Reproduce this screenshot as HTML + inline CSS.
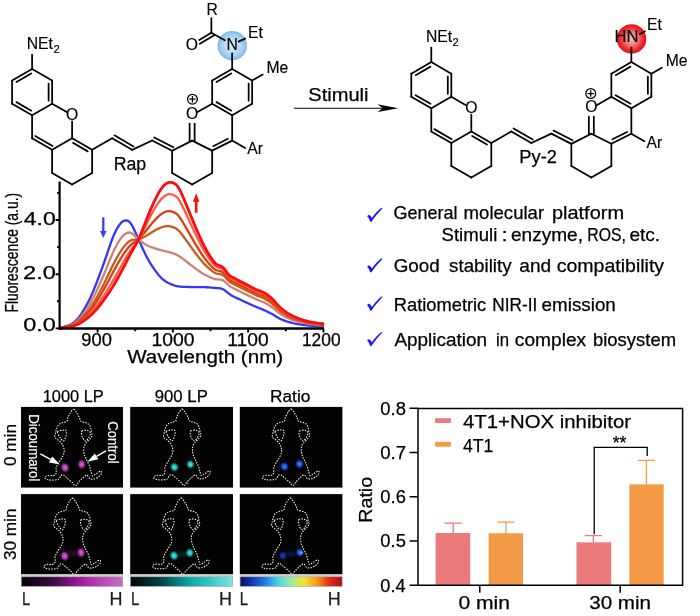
<!DOCTYPE html>
<html lang="en"><head><meta charset="utf-8"><title>Ratiometric NIR-II probe figure</title>
<style>html,body{margin:0;padding:0;background:#fff}body{width:700px;height:616px;overflow:hidden}svg{display:block}text{font-family:"Liberation Sans", sans-serif}</style></head><body>
<svg width="700" height="616" viewBox="0 0 700 616">
<rect width="700" height="616" fill="#fff"/>
<!-- spectrum -->
<g fill="none" stroke-linejoin="round" stroke-linecap="round">
<path d="M60 328 61 327.65 62 327.34 63 327.04 64 326.75 65 326.46 66 326.16 67 325.84 68 325.5 69 325.12 70 324.69 71 324.2 72 323.65 73 323.02 74 322.31 75 321.5 76 320.59 77 319.57 78 318.43 79 317.16 80 315.79 81 314.32 82 312.77 83 311.16 84 309.5 85 307.8 86 306.06 87 304.25 88 302.39 89 300.44 90 298.41 91 296.28 92 294.04 93 291.71 94 289.28 95 286.78 96 284.22 97 281.62 98 279 99 276.36 100 273.7 101 271.02 102 268.31 103 265.55 104 262.75 105 259.89 106 256.97 107 254.02 108 251.06 109 248.12 110 245.24 111 242.43 112 239.74 113 237.18 114 234.79 115 232.57 116 230.54 117 228.68 118 227 119 225.5 120 224.17 121 223.01 122 222.04 123 221.29 124 220.77 125 220.49 126 220.4 127 220.49 128 220.84 129 221.52 130 222.55 131 223.89 132 225.5 133 227.32 134 229.31 135 231.42 136 233.59 137 235.81 138 238.05 139 240.3 140 242.56 141 244.8 142 247.02 143 249.2 144 251.34 145 253.43 146 255.46 147 257.41 148 259.29 149 261.08 150 262.78 151 264.38 152 265.91 153 267.38 154 268.81 155 270.2 156 271.57 157 272.91 158 274.2 159 275.42 160 276.57 161 277.63 162 278.6 163 279.47 164 280.27 165 281 166 281.66 167 282.26 168 282.8 169 283.3 170 283.76 171 284.18 172 284.57 173 284.94 174 285.28 175 285.59 176 285.86 177 286.1 178 286.3 179 286.46 180 286.59 181 286.68 182 286.75 183 286.8 184 286.84 185 286.87 186 286.9 187 286.93 188 286.96 189 286.99 190 287.02 191 287.05 192 287.08 193 287.11 194 287.13 195 287.15 196 287.17 197 287.19 198 287.2 199 287.2 200 287.2 201 287.19 202 287.19 203 287.19 204 287.19 205 287.2 206 287.23 207 287.27 208 287.33 209 287.4 210 287.49 211 287.59 212 287.69 213 287.78 214 287.87 215 287.94 216 288 217 288.04 218 288.08 219 288.15 220 288.27 221 288.48 222 288.8 223 289.25 224 289.84 225 290.54 226 291.3 227 292.09 228 292.89 229 293.66 230 294.38 231 295.04 232 295.64 233 296.2 234 296.72 235 297.21 236 297.68 237 298.14 238 298.6 239 299.06 240 299.53 241 300 242 300.47 243 300.94 244 301.42 245 301.89 246 302.36 247 302.83 248 303.29 249 303.75 250 304.2 251 304.64 252 305.08 253 305.51 254 305.94 255 306.36 256 306.78 257 307.19 258 307.6 259 308.01 260 308.41 261 308.82 262 309.23 263 309.64 264 310.07 265 310.5 266 310.95 267 311.42 268 311.9 269 312.41 270 312.93 271 313.47 272 314.03 273 314.61 274 315.2 275 315.8 276 316.41 277 317 278 317.58 279 318.14 280 318.66 281 319.15 282 319.6 283 320.02 284 320.42 285 320.8 286 321.16 287 321.5 288 321.82 289 322.13 290 322.42 291 322.69 292 322.94 293 323.19 294 323.41 295 323.62 296 323.82 297 324 298 324.17 299 324.33 300 324.48 301 324.61 302 324.74 303 324.87 304 324.99 305 325.1 306 325.22 307 325.32 308 325.43 309 325.53 310 325.63 311 325.72 312 325.81 313 325.9 314 325.98 315 326.06 316 326.14 317 326.21 318 326.28 319 326.35 320 326.41 321 326.47 322 326.53 323 326.58" stroke="#3636f6" stroke-width="2.3"/>
<path d="M60 328.06 61 327.77 62 327.49 63 327.24 64 327 65 326.76 66 326.51 67 326.25 68 325.96 69 325.65 70 325.3 71 324.91 72 324.46 73 323.95 74 323.37 75 322.72 76 321.98 77 321.15 78 320.22 79 319.19 80 318.07 81 316.87 82 315.61 83 314.3 84 312.94 85 311.55 86 310.12 87 308.64 88 307.11 89 305.52 90 303.85 91 302.11 92 300.27 93 298.35 94 296.36 95 294.31 96 292.2 97 290.05 98 287.87 99 285.66 100 283.44 101 281.18 102 278.89 103 276.57 104 274.21 105 271.81 106 269.36 107 266.88 108 264.39 109 261.91 110 259.46 111 257.05 112 254.7 113 252.43 114 250.27 115 248.22 116 246.28 117 244.45 118 242.73 119 241.13 120 239.64 121 238.26 122 237 123 235.89 124 234.94 125 234.14 126 233.48 127 232.94 128 232.58 129 232.45 130 232.57 131 232.93 132 233.48 133 234.19 134 235.04 135 235.97 136 236.93 137 237.88 138 238.8 139 239.68 140 240.51 141 241.3 142 242.05 143 242.77 144 243.46 145 244.12 146 244.73 147 245.3 148 245.82 149 246.3 150 246.72 151 247.1 152 247.45 153 247.78 154 248.09 155 248.4 156 248.72 157 249.04 158 249.35 159 249.66 160 249.94 161 250.2 162 250.43 163 250.65 164 250.87 165 251.08 166 251.3 167 251.52 168 251.76 169 252.02 170 252.3 171 252.61 172 252.95 173 253.3 174 253.67 175 254.05 176 254.48 177 254.95 178 255.49 179 256.09 180 256.74 181 257.43 182 258.16 183 258.91 184 259.67 185 260.44 186 261.2 187 261.97 188 262.74 189 263.52 190 264.31 191 265.09 192 265.87 193 266.64 194 267.4 195 268.15 196 268.89 197 269.61 198 270.33 199 271.03 200 271.71 201 272.38 202 273.04 203 273.67 204 274.27 205 274.83 206 275.35 207 275.84 208 276.32 209 276.78 210 277.22 211 277.65 212 278.06 213 278.44 214 278.78 215 279.06 216 279.25 217 279.37 218 279.43 219 279.47 220 279.54 221 279.68 222 279.94 223 280.39 224 281.03 225 281.84 226 282.77 227 283.77 228 284.73 229 285.59 230 286.31 231 286.93 232 287.49 233 288.01 234 288.51 235 289.01 236 289.5 237 289.99 238 290.47 239 290.96 240 291.45 241 291.95 242 292.44 243 292.93 244 293.42 245 293.91 246 294.4 247 294.89 248 295.38 249 295.86 250 296.35 251 296.83 252 297.31 253 297.79 254 298.25 255 298.7 256 299.14 257 299.57 258 299.98 259 300.37 260 300.76 261 301.14 262 301.54 263 301.95 264 302.4 265 302.88 266 303.41 267 303.97 268 304.57 269 305.18 270 305.82 271 306.5 272 307.24 273 308.02 274 308.85 275 309.71 276 310.56 277 311.39 278 312.18 279 312.93 280 313.63 281 314.3 282 314.93 283 315.52 284 316.09 285 316.62 286 317.14 287 317.63 288 318.09 289 318.53 290 318.94 291 319.34 292 319.7 293 320.05 294 320.38 295 320.69 296 320.99 297 321.27 298 321.54 299 321.8 300 322.04 301 322.28 302 322.5 303 322.72 304 322.92 305 323.12 306 323.3 307 323.48 308 323.64 309 323.8 310 323.95 311 324.1 312 324.23 313 324.36 314 324.48 315 324.59 316 324.7 317 324.81 318 324.91 319 325 320 325.09 321 325.18 322 325.26 323 325.34" stroke="#cc8274" stroke-width="2.3"/>
<path d="M60 328.11 61 327.86 62 327.63 63 327.41 64 327.2 65 327 66 326.8 67 326.58 68 326.35 69 326.09 70 325.81 71 325.49 72 325.13 73 324.72 74 324.25 75 323.72 76 323.13 77 322.46 78 321.7 79 320.87 80 319.96 81 318.99 82 317.96 83 316.89 84 315.78 85 314.65 86 313.48 87 312.27 88 311.02 89 309.71 90 308.35 91 306.92 92 305.41 93 303.84 94 302.21 95 300.52 96 298.78 97 297 98 295.19 99 293.34 100 291.47 101 289.57 102 287.64 103 285.68 104 283.68 105 281.65 106 279.59 107 277.51 108 275.4 109 273.3 110 271.2 111 269.11 112 267.05 113 265.03 114 263.05 115 261.13 116 259.27 117 257.47 118 255.72 119 254.03 120 252.41 121 250.85 122 249.36 123 247.95 124 246.64 125 245.42 126 244.28 127 243.22 128 242.27 129 241.48 130 240.85 131 240.39 132 240.06 133 239.87 134 239.77 135 239.72 136 239.68 137 239.59 138 239.42 139 239.16 140 238.81 141 238.41 142 237.95 143 237.47 144 236.96 145 236.43 146 235.88 147 235.3 148 234.7 149 234.09 150 233.46 151 232.83 152 232.2 153 231.58 154 230.98 155 230.4 156 229.85 157 229.33 158 228.84 159 228.38 160 227.94 161 227.54 162 227.17 163 226.85 164 226.58 165 226.37 166 226.23 167 226.14 168 226.13 169 226.19 170 226.33 171 226.55 172 226.83 173 227.18 174 227.56 175 228.01 176 228.56 177 229.23 178 230.05 179 231.01 180 232.09 181 233.28 182 234.55 183 235.88 184 237.24 185 238.6 186 239.98 187 241.36 188 242.75 189 244.14 190 245.55 191 246.95 192 248.35 193 249.73 194 251.1 195 252.46 196 253.79 197 255.1 198 256.39 199 257.67 200 258.92 201 260.15 202 261.35 203 262.52 204 263.63 205 264.68 206 265.68 207 266.64 208 267.57 209 268.46 210 269.32 211 270.15 212 270.93 213 271.67 214 272.33 215 272.89 216 273.32 217 273.61 218 273.81 219 273.97 220 274.12 221 274.33 222 274.67 223 275.21 224 275.98 225 276.94 226 278.05 227 279.21 228 280.32 229 281.27 230 282.03 231 282.67 232 283.21 233 283.71 234 284.21 235 284.71 236 285.21 237 285.71 238 286.21 239 286.72 240 287.22 241 287.73 242 288.23 243 288.73 244 289.23 245 289.73 246 290.23 247 290.73 248 291.23 249 291.73 250 292.24 251 292.74 252 293.24 253 293.74 254 294.22 255 294.69 256 295.14 257 295.57 258 295.99 259 296.37 260 296.75 261 297.12 262 297.51 263 297.93 264 298.38 265 298.89 266 299.45 267 300.07 268 300.72 269 301.4 270 302.1 271 302.85 272 303.67 273 304.57 274 305.53 275 306.51 276 307.49 277 308.44 278 309.34 279 310.19 280 311 281 311.76 282 312.48 283 313.16 284 313.81 285 314.43 286 315.03 287 315.6 288 316.13 289 316.64 290 317.12 291 317.58 292 318.01 293 318.41 294 318.79 295 319.16 296 319.5 297 319.84 298 320.16 299 320.47 300 320.77 301 321.06 302 321.33 303 321.59 304 321.84 305 322.08 306 322.3 307 322.51 308 322.71 309 322.9 310 323.07 311 323.24 312 323.4 313 323.55 314 323.69 315 323.83 316 323.95 317 324.07 318 324.19 319 324.29 320 324.4 321 324.5 322 324.59 323 324.68" stroke="#c85a1e" stroke-width="2.3"/>
<path d="M60 328.14 61 327.91 62 327.7 63 327.51 64 327.32 65 327.14 66 326.96 67 326.77 68 326.57 69 326.35 70 326.11 71 325.83 72 325.52 73 325.17 74 324.76 75 324.31 76 323.79 77 323.21 78 322.56 79 321.84 80 321.06 81 320.22 82 319.33 83 318.4 84 317.44 85 316.45 86 315.43 87 314.38 88 313.29 89 312.15 90 310.96 91 309.71 92 308.41 93 307.04 94 305.61 95 304.14 96 302.62 97 301.05 98 299.45 99 297.81 100 296.15 101 294.45 102 292.73 103 290.97 104 289.19 105 287.38 106 285.55 107 283.69 108 281.81 109 279.93 110 278.03 111 276.14 112 274.24 113 272.36 114 270.49 115 268.65 116 266.83 117 265.04 118 263.28 119 261.55 120 259.85 121 258.18 122 256.55 123 254.97 124 253.45 125 251.99 126 250.57 127 249.21 128 247.92 129 246.74 130 245.67 131 244.73 132 243.9 133 243.17 134 242.52 135 241.91 136 241.28 137 240.59 138 239.78 139 238.86 140 237.83 141 236.72 142 235.56 143 234.38 144 233.18 145 231.95 146 230.72 147 229.48 148 228.23 149 226.98 150 225.74 151 224.52 152 223.33 153 222.16 154 221.02 155 219.93 156 218.87 157 217.86 158 216.9 159 215.99 160 215.14 161 214.35 162 213.64 163 213 164 212.45 165 211.99 166 211.63 167 211.37 168 211.21 169 211.16 170 211.21 171 211.38 172 211.63 173 211.97 174 212.37 175 212.86 176 213.47 177 214.26 178 215.24 179 216.41 180 217.74 181 219.22 182 220.81 183 222.47 184 224.18 185 225.9 186 227.62 187 229.36 188 231.11 189 232.87 190 234.63 191 236.39 192 238.15 193 239.89 194 241.62 195 243.32 196 245 197 246.65 198 248.29 199 249.89 200 251.48 201 253.03 202 254.55 203 256.02 204 257.43 205 258.78 206 260.07 207 261.31 208 262.51 209 263.67 210 264.79 211 265.86 212 266.88 213 267.83 214 268.69 215 269.43 216 270.01 217 270.42 218 270.72 219 270.95 220 271.17 221 271.44 222 271.84 223 272.44 224 273.29 225 274.35 226 275.56 227 276.83 228 278.02 229 279.02 230 279.82 231 280.45 232 281 233 281.49 234 281.99 235 282.49 236 283 237 283.5 238 284.01 239 284.52 240 285.04 241 285.54 242 286.05 243 286.56 244 287.06 245 287.56 246 288.07 247 288.58 248 289.09 249 289.6 250 290.11 251 290.63 252 291.14 253 291.64 254 292.14 255 292.61 256 293.07 257 293.51 258 293.92 259 294.3 260 294.67 261 295.04 262 295.43 263 295.84 264 296.3 265 296.82 266 297.41 267 298.05 268 298.74 269 299.44 270 300.17 271 300.96 272 301.83 273 302.79 274 303.81 275 304.86 276 305.91 277 306.92 278 307.88 279 308.78 280 309.64 281 310.44 282 311.21 283 311.94 284 312.64 285 313.3 286 313.94 287 314.55 288 315.12 289 315.67 290 316.18 291 316.67 292 317.13 293 317.56 294 317.97 295 318.36 296 318.74 297 319.1 298 319.45 299 319.78 300 320.11 301 320.42 302 320.72 303 321.01 304 321.28 305 321.54 306 321.78 307 322.01 308 322.23 309 322.43 310 322.62 311 322.8 312 322.97 313 323.13 314 323.28 315 323.43 316 323.56 317 323.69 318 323.81 319 323.93 320 324.04 321 324.15 322 324.25 323 324.35" stroke="#d8420f" stroke-width="2.3"/>
<path d="M60 328.18 61 327.97 62 327.79 63 327.62 64 327.46 65 327.3 66 327.15 67 326.99 68 326.82 69 326.64 70 326.44 71 326.21 72 325.96 73 325.67 74 325.34 75 324.97 76 324.55 77 324.07 78 323.54 79 322.94 80 322.29 81 321.6 82 320.87 83 320.1 84 319.3 85 318.48 86 317.64 87 316.76 88 315.85 89 314.9 90 313.91 91 312.87 92 311.78 93 310.64 94 309.45 95 308.22 96 306.94 97 305.61 98 304.25 99 302.86 100 301.42 101 299.96 102 298.47 103 296.95 104 295.4 105 293.84 106 292.26 107 290.66 108 289.04 109 287.4 110 285.74 111 284.06 112 282.35 113 280.63 114 278.88 115 277.13 116 275.36 117 273.59 118 271.8 119 270.02 120 268.23 121 266.44 122 264.66 123 262.89 124 261.13 125 259.39 126 257.66 127 255.95 128 254.28 129 252.66 130 251.11 131 249.63 132 248.22 133 246.89 134 245.63 135 244.38 136 243.09 137 241.71 138 240.19 139 238.52 140 236.72 141 234.82 142 232.87 143 230.9 144 228.91 145 226.91 146 224.91 147 222.91 148 220.93 149 218.97 150 217.04 151 215.16 152 213.32 153 211.53 154 209.8 155 208.11 156 206.49 157 204.92 158 203.43 159 202.03 160 200.71 161 199.48 162 198.37 163 197.38 164 196.51 165 195.78 166 195.18 167 194.72 168 194.39 169 194.21 170 194.17 171 194.27 172 194.49 173 194.82 174 195.24 175 195.77 176 196.46 177 197.38 178 198.55 179 199.95 180 201.57 181 203.37 182 205.31 183 207.36 184 209.45 185 211.57 186 213.69 187 215.83 188 217.98 189 220.15 190 222.32 191 224.49 192 226.65 193 228.8 194 230.93 195 233.02 196 235.09 197 237.13 198 239.14 199 241.13 200 243.09 201 245.01 202 246.88 203 248.7 204 250.45 205 252.13 206 253.75 207 255.32 208 256.83 209 258.3 210 259.71 211 261.06 212 262.36 213 263.57 214 264.66 215 265.6 216 266.36 217 266.92 218 267.33 219 267.66 220 267.96 221 268.3 222 268.77 223 269.46 224 270.41 225 271.57 226 272.9 227 274.29 228 275.58 229 276.64 230 277.47 231 278.12 232 278.66 233 279.15 234 279.65 235 280.15 236 280.66 237 281.17 238 281.69 239 282.21 240 282.73 241 283.24 242 283.76 243 284.27 244 284.77 245 285.28 246 285.79 247 286.31 248 286.82 249 287.35 250 287.87 251 288.4 252 288.92 253 289.44 254 289.94 255 290.43 256 290.89 257 291.33 258 291.74 259 292.12 260 292.49 261 292.85 262 293.23 263 293.65 264 294.11 265 294.64 266 295.25 267 295.93 268 296.64 269 297.37 270 298.14 271 298.97 272 299.89 273 300.9 274 301.99 275 303.12 276 304.24 277 305.32 278 306.33 279 307.29 280 308.2 281 309.06 282 309.87 283 310.65 284 311.4 285 312.11 286 312.79 287 313.44 288 314.06 289 314.64 290 315.19 291 315.71 292 316.2 293 316.67 294 317.11 295 317.53 296 317.93 297 318.32 298 318.7 299 319.06 300 319.42 301 319.76 302 320.08 303 320.4 304 320.69 305 320.97 306 321.23 307 321.48 308 321.72 309 321.94 310 322.14 311 322.34 312 322.52 313 322.69 314 322.85 315 323.01 316 323.15 317 323.29 318 323.42 319 323.54 320 323.66 321 323.78 322 323.88 323 323.99" stroke="#ff5a48" stroke-width="2.3"/>
<path d="M60 328.2 61 328.01 62 327.85 63 327.69 64 327.55 65 327.42 66 327.28 67 327.14 68 327 69 326.84 70 326.67 71 326.48 72 326.27 73 326.02 74 325.74 75 325.43 76 325.07 77 324.67 78 324.21 79 323.71 80 323.16 81 322.57 82 321.94 83 321.28 84 320.6 85 319.9 86 319.17 87 318.42 88 317.63 89 316.82 90 315.96 91 315.07 92 314.13 93 313.15 94 312.13 95 311.06 96 309.95 97 308.79 98 307.6 99 306.37 100 305.1 101 303.79 102 302.46 103 301.11 104 299.73 105 298.34 106 296.93 107 295.51 108 294.07 109 292.6 110 291.11 111 289.57 112 288 113 286.38 114 284.73 115 283.03 116 281.3 117 279.54 118 277.74 119 275.92 120 274.07 121 272.2 122 270.31 123 268.4 124 266.48 125 264.54 126 262.6 127 260.65 128 258.71 129 256.79 130 254.89 131 253.03 132 251.23 133 249.48 134 247.79 135 246.09 136 244.35 137 242.49 138 240.48 139 238.28 140 235.94 141 233.5 142 231 143 228.47 144 225.94 145 223.4 146 220.86 147 218.34 148 215.85 149 213.39 150 210.98 151 208.63 152 206.35 153 204.13 154 201.98 155 199.89 156 197.86 157 195.92 158 194.06 159 192.3 160 190.65 161 189.13 162 187.74 163 186.5 164 185.41 165 184.49 166 183.72 167 183.12 168 182.68 169 182.4 170 182.3 171 182.36 172 182.56 173 182.88 174 183.31 175 183.87 176 184.62 177 185.62 178 186.92 179 188.49 180 190.3 181 192.33 182 194.52 183 196.83 184 199.2 185 201.59 186 203.99 187 206.41 188 208.84 189 211.29 190 213.75 191 216.2 192 218.65 193 221.08 194 223.48 195 225.85 196 228.19 197 230.5 198 232.77 199 235.02 200 237.24 201 239.42 202 241.54 203 243.6 204 245.59 205 247.51 206 249.36 207 251.15 208 252.89 209 254.57 210 256.19 211 257.75 212 259.23 213 260.62 214 261.88 215 262.98 216 263.86 217 264.52 218 265.02 219 265.42 220 265.78 221 266.18 222 266.7 223 267.45 224 268.47 225 269.71 226 271.12 227 272.59 228 273.96 229 275.06 230 275.91 231 276.57 232 277.11 233 277.6 234 278.09 235 278.59 236 279.11 237 279.63 238 280.15 239 280.68 240 281.2 241 281.72 242 282.23 243 282.75 244 283.26 245 283.77 246 284.29 247 284.8 248 285.33 249 285.85 250 286.39 251 286.92 252 287.45 253 287.97 254 288.48 255 288.98 256 289.45 257 289.89 258 290.3 259 290.68 260 291.04 261 291.4 262 291.78 263 292.19 264 292.66 265 293.2 266 293.83 267 294.52 268 295.25 269 296.01 270 296.8 271 297.65 272 298.6 273 299.66 274 300.79 275 301.96 276 303.13 277 304.25 278 305.31 279 306.31 280 307.25 281 308.14 282 308.99 283 309.8 284 310.58 285 311.32 286 312.03 287 312.71 288 313.35 289 313.96 290 314.53 291 315.08 292 315.59 293 316.07 294 316.53 295 316.97 296 317.39 297 317.8 298 318.2 299 318.58 300 318.96 301 319.31 302 319.66 303 319.99 304 320.3 305 320.59 306 320.87 307 321.13 308 321.38 309 321.61 310 321.82 311 322.03 312 322.22 313 322.4 314 322.57 315 322.73 316 322.88 317 323.02 318 323.16 319 323.29 320 323.41 321 323.53 322 323.64 323 323.76" stroke="#fc0d0d" stroke-width="2.8"/>
</g>
<g stroke="#000" fill="none">
<path d="M59.6 181.6V329.6" stroke-width="2.2"/>
<path d="M58.5 328.5H324" stroke-width="2.3"/>
<path d="M55.6 328.4H59M55.6 274.2H59M55.6 220H59M57 301.3H59M57 247.1H59M57 192.9H59M97.62 328.5V332.6M172.88 328.5V332.6M248.12 328.5V332.6M323.38 328.5V332.6M135.25 328.5V331.2M210.5 328.5V331.2M285.75 328.5V331.2" stroke-width="1.9"/>
</g>
<text font-size="18" textLength="32.03" lengthAdjust="spacingAndGlyphs" stroke="#000" stroke-width="0.25" x="23.75" y="224.6">4.0</text>
<text font-size="18" textLength="32.85" lengthAdjust="spacingAndGlyphs" stroke="#000" stroke-width="0.25" x="23" y="279">2.0</text>
<text font-size="18" textLength="32.58" lengthAdjust="spacingAndGlyphs" stroke="#000" stroke-width="0.25" x="23.25" y="331.2">0.0</text>
<text font-size="17.5" textLength="30.57" lengthAdjust="spacingAndGlyphs" stroke="#000" stroke-width="0.25" x="81.25" y="346">900</text>
<text font-size="17.5" textLength="43.09" lengthAdjust="spacingAndGlyphs" stroke="#000" stroke-width="0.25" x="151.55" y="346">1000</text>
<text font-size="17.5" textLength="41.33" lengthAdjust="spacingAndGlyphs" stroke="#000" stroke-width="0.25" x="227.25" y="346">1100</text>
<text font-size="17.5" textLength="38.59" lengthAdjust="spacingAndGlyphs" stroke="#000" stroke-width="0.25" x="301.95" y="346">1200</text>
<text font-size="18.9" textLength="156.01" lengthAdjust="spacingAndGlyphs" stroke="#000" stroke-width="0.25" x="127.2" y="363.2">Wavelength (nm)</text>
<text font-size="18" textLength="119.78" lengthAdjust="spacingAndGlyphs" stroke="#000" stroke-width="0.25" x="-1" y="0" transform="translate(18 311.6) rotate(-90)">Fluorescence (a.u.)</text>
<path d="M103.3 217.3V232" stroke="#3a3af2" stroke-width="2.3" fill="none"/><path d="M100 231L103.3 238L106.6 231Z" fill="#3a3af2"/>
<path d="M196.2 212.8V200" stroke="#fa0f0f" stroke-width="2.6" fill="none"/><path d="M192.9 201.8L196.2 193.2L199.5 201.8Z" fill="#fa0f0f"/>
<!-- chemistry -->
<g stroke="#000" stroke-width="1.75" stroke-linecap="round" fill="none">
<line x1="32.1" y1="69" x2="52.11" y2="80.55"/>
<line x1="52.11" y1="80.55" x2="52.11" y2="103.65"/>
<line x1="52.11" y1="103.65" x2="32.1" y2="115.2"/>
<line x1="32.1" y1="115.2" x2="12.09" y2="103.65"/>
<line x1="12.09" y1="103.65" x2="12.09" y2="80.55"/>
<line x1="12.09" y1="80.55" x2="32.1" y2="69"/>
<line x1="16.44" y1="82.08" x2="31.25" y2="73.53"/>
<line x1="48.61" y1="83.55" x2="48.61" y2="100.65"/>
<line x1="16.44" y1="102.12" x2="31.25" y2="110.67"/>
<line x1="32.1" y1="69" x2="32.1" y2="54.5"/>
<line x1="52.11" y1="103.65" x2="66.74" y2="112.1"/>
<line x1="72.11" y1="121.4" x2="72.11" y2="138.3"/>
<line x1="72.11" y1="138.3" x2="52.11" y2="149.85"/>
<line x1="52.11" y1="149.85" x2="32.1" y2="138.3"/>
<line x1="52.56" y1="146.07" x2="35.15" y2="136.02"/>
<line x1="32.1" y1="138.3" x2="32.1" y2="115.2"/>
<line x1="72.11" y1="138.3" x2="92.12" y2="149.85"/>
<line x1="72.96" y1="142.83" x2="87.77" y2="151.38"/>
<line x1="92.12" y1="149.85" x2="92.12" y2="172.95"/>
<line x1="92.12" y1="172.95" x2="72.11" y2="184.5"/>
<line x1="72.11" y1="184.5" x2="52.11" y2="172.95"/>
<line x1="52.11" y1="172.95" x2="52.11" y2="149.85"/>
<line x1="92.12" y1="149.85" x2="112.12" y2="138.3"/>
<line x1="112.12" y1="138.3" x2="132.13" y2="149.85"/>
<line x1="132.13" y1="149.85" x2="152.13" y2="140.5"/>
<line x1="152.13" y1="140.5" x2="172.14" y2="150.75"/>
<line x1="114.4" y1="135.35" x2="133.54" y2="146.4"/>
<line x1="154.26" y1="137.44" x2="173.38" y2="147.23"/>
<line x1="172.14" y1="150.75" x2="192.14" y2="140.6"/>
<line x1="192.14" y1="140.6" x2="212.15" y2="150.65"/>
<line x1="212.15" y1="150.65" x2="212.15" y2="172.95"/>
<line x1="212.15" y1="172.95" x2="192.14" y2="184.5"/>
<line x1="192.14" y1="184.5" x2="172.14" y2="172.95"/>
<line x1="172.14" y1="172.95" x2="172.14" y2="150.75"/>
<line x1="189.64" y1="123.6" x2="189.64" y2="141.2"/>
<line x1="194.64" y1="123.6" x2="194.64" y2="141.2"/>
<line x1="197.51" y1="112.1" x2="212.15" y2="103.65"/>
<line x1="232.15" y1="115.2" x2="232.15" y2="140.6"/>
<line x1="232.15" y1="140.6" x2="212.15" y2="150.65"/>
<line x1="227.9" y1="138.82" x2="213.26" y2="146.18"/>
<line x1="232.15" y1="69" x2="252.16" y2="80.55"/>
<line x1="252.16" y1="80.55" x2="252.16" y2="103.65"/>
<line x1="252.16" y1="103.65" x2="232.15" y2="115.2"/>
<line x1="232.15" y1="115.2" x2="212.15" y2="103.65"/>
<line x1="212.15" y1="103.65" x2="212.15" y2="80.55"/>
<line x1="212.15" y1="80.55" x2="232.15" y2="69"/>
<line x1="216.49" y1="82.08" x2="231.3" y2="73.53"/>
<line x1="248.66" y1="83.55" x2="248.66" y2="100.65"/>
<line x1="216.49" y1="102.12" x2="231.3" y2="110.67"/>
<line x1="232.15" y1="140.6" x2="245.15" y2="148.1"/>
<line x1="252.16" y1="80.55" x2="262.66" y2="74.55"/>
</g>
<g font-size="16">
<text font-size="15.7" stroke="#000" stroke-width="0.15" x="26.7" y="48.9">NEt</text>
<text font-size="11.2" stroke="#000" stroke-width="0.15" x="53.4" y="52.8">2</text>
<text font-size="15.7" text-anchor="middle" stroke="#000" stroke-width="0.15" x="72.11" y="119.7">O</text>
<text font-size="15.7" text-anchor="middle" stroke="#000" stroke-width="0.15" x="192.14" y="119.3">O</text>
<text font-size="15.7" stroke="#000" stroke-width="0.15" x="247.35" y="154.4">Ar</text>
<text font-size="15.7" stroke="#000" stroke-width="0.15" x="266.46" y="72.85">Me</text>
</g>
<g stroke="#000" stroke-width="1.25" fill="none"><circle cx="192.44" cy="99.2" r="4.9"/><path d="M189.24 99.2H195.64M192.44 96V102.4"/></g>
<defs><radialGradient id="gb" cx="50%" cy="50%" r="50%"><stop offset="0" stop-color="#d9eaf8"/><stop offset="0.45" stop-color="#c2dcf3"/><stop offset="0.8" stop-color="#9ccaed"/><stop offset="1" stop-color="#7ab5e6"/></radialGradient><radialGradient id="gr" cx="50%" cy="50%" r="50%"><stop offset="0" stop-color="#f9c4c4"/><stop offset="0.42" stop-color="#f17c7c"/><stop offset="0.78" stop-color="#ea2c2e"/><stop offset="1" stop-color="#e40a14"/></radialGradient></defs>
<circle cx="232.25" cy="45.7" r="14.7" fill="url(#gb)"/>
<g stroke="#000" stroke-width="1.75" stroke-linecap="round" fill="none">
<line x1="232.15" y1="69" x2="232.15" y2="53.4"/>
<line x1="211.35" y1="32.7" x2="224.74" y2="40.23"/>
<line x1="211.35" y1="32.7" x2="211.35" y2="18.2"/>
<line x1="211.35" y1="32.7" x2="199.23" y2="39.98"/>
<line x1="214.23" y1="35.17" x2="199.88" y2="43.78"/>
<line x1="238.65" y1="41.6" x2="245.15" y2="38.6"/>
</g>
<text font-size="15.7" text-anchor="middle" stroke="#000" stroke-width="0.15" x="232.15" y="49.9">N</text>
<text font-size="15.7" text-anchor="middle" stroke="#000" stroke-width="0.15" x="191.85" y="49.9">O</text>
<text font-size="15.7" text-anchor="middle" stroke="#000" stroke-width="0.15" x="212.15" y="15.2">R</text>
<text font-size="15.7" stroke="#000" stroke-width="0.15" x="247.95" y="37.9">Et</text>
<text font-size="18.6" textLength="32.61" lengthAdjust="spacingAndGlyphs" stroke="#000" stroke-width="0.25" x="113.65" y="169.5">Rap</text>
<g stroke="#000" stroke-width="1.75" stroke-linecap="round" fill="none">
<line x1="431.3" y1="62.1" x2="451.31" y2="73.65"/>
<line x1="451.31" y1="73.65" x2="451.31" y2="96.75"/>
<line x1="451.31" y1="96.75" x2="431.3" y2="108.3"/>
<line x1="431.3" y1="108.3" x2="411.29" y2="96.75"/>
<line x1="411.29" y1="96.75" x2="411.29" y2="73.65"/>
<line x1="411.29" y1="73.65" x2="431.3" y2="62.1"/>
<line x1="415.64" y1="75.18" x2="430.45" y2="66.63"/>
<line x1="447.81" y1="76.65" x2="447.81" y2="93.75"/>
<line x1="415.64" y1="95.22" x2="430.45" y2="103.77"/>
<line x1="431.3" y1="62.1" x2="431.3" y2="47.6"/>
<line x1="451.31" y1="96.75" x2="465.94" y2="105.2"/>
<line x1="471.31" y1="114.5" x2="471.31" y2="131.4"/>
<line x1="471.31" y1="131.4" x2="451.31" y2="142.95"/>
<line x1="451.31" y1="142.95" x2="431.3" y2="131.4"/>
<line x1="451.76" y1="139.17" x2="434.35" y2="129.12"/>
<line x1="431.3" y1="131.4" x2="431.3" y2="108.3"/>
<line x1="471.31" y1="131.4" x2="491.32" y2="142.95"/>
<line x1="472.16" y1="135.93" x2="486.97" y2="144.48"/>
<line x1="491.32" y1="142.95" x2="491.32" y2="166.05"/>
<line x1="491.32" y1="166.05" x2="471.31" y2="177.6"/>
<line x1="471.31" y1="177.6" x2="451.31" y2="166.05"/>
<line x1="451.31" y1="166.05" x2="451.31" y2="142.95"/>
<line x1="491.32" y1="142.95" x2="511.32" y2="131.4"/>
<line x1="511.32" y1="131.4" x2="531.33" y2="142.95"/>
<line x1="531.33" y1="142.95" x2="551.33" y2="133.6"/>
<line x1="551.33" y1="133.6" x2="571.34" y2="143.85"/>
<line x1="513.6" y1="128.45" x2="532.74" y2="139.5"/>
<line x1="553.46" y1="130.54" x2="572.58" y2="140.33"/>
<line x1="571.34" y1="143.85" x2="591.34" y2="133.7"/>
<line x1="591.34" y1="133.7" x2="611.35" y2="143.75"/>
<line x1="611.35" y1="143.75" x2="611.35" y2="166.05"/>
<line x1="611.35" y1="166.05" x2="591.34" y2="177.6"/>
<line x1="591.34" y1="177.6" x2="571.34" y2="166.05"/>
<line x1="571.34" y1="166.05" x2="571.34" y2="143.85"/>
<line x1="588.84" y1="116.7" x2="588.84" y2="134.3"/>
<line x1="593.84" y1="116.7" x2="593.84" y2="134.3"/>
<line x1="596.71" y1="105.2" x2="611.35" y2="96.75"/>
<line x1="631.35" y1="108.3" x2="631.35" y2="133.7"/>
<line x1="631.35" y1="133.7" x2="611.35" y2="143.75"/>
<line x1="627.1" y1="131.92" x2="612.46" y2="139.28"/>
<line x1="631.35" y1="62.1" x2="651.36" y2="73.65"/>
<line x1="651.36" y1="73.65" x2="651.36" y2="96.75"/>
<line x1="651.36" y1="96.75" x2="631.35" y2="108.3"/>
<line x1="631.35" y1="108.3" x2="611.35" y2="96.75"/>
<line x1="611.35" y1="96.75" x2="611.35" y2="73.65"/>
<line x1="611.35" y1="73.65" x2="631.35" y2="62.1"/>
<line x1="615.69" y1="75.18" x2="630.5" y2="66.63"/>
<line x1="647.86" y1="76.65" x2="647.86" y2="93.75"/>
<line x1="615.69" y1="95.22" x2="630.5" y2="103.77"/>
<line x1="631.35" y1="133.7" x2="644.35" y2="141.2"/>
<line x1="651.36" y1="73.65" x2="661.86" y2="67.65"/>
</g>
<g font-size="16">
<text font-size="15.7" stroke="#000" stroke-width="0.15" x="425.9" y="42">NEt</text>
<text font-size="11.2" stroke="#000" stroke-width="0.15" x="452.6" y="45.9">2</text>
<text font-size="15.7" text-anchor="middle" stroke="#000" stroke-width="0.15" x="471.31" y="112.8">O</text>
<text font-size="15.7" text-anchor="middle" stroke="#000" stroke-width="0.15" x="591.34" y="112.4">O</text>
<text font-size="15.7" stroke="#000" stroke-width="0.15" x="646.55" y="147.5">Ar</text>
<text font-size="15.7" stroke="#000" stroke-width="0.15" x="665.66" y="65.95">Me</text>
</g>
<g stroke="#000" stroke-width="1.25" fill="none"><circle cx="590.74" cy="93.5" r="4.9"/><path d="M587.54 93.5H593.94M590.74 90.3V96.7"/></g>
<circle cx="631.55" cy="38.9" r="14.7" fill="url(#gr)"/>
<g stroke="#000" stroke-width="1.75" stroke-linecap="round" fill="none">
<line x1="631.35" y1="62.1" x2="631.35" y2="47.5"/>
<line x1="639.95" y1="34.1" x2="644.95" y2="31.2"/>
</g>
<text font-size="15.7" textLength="23.98" lengthAdjust="spacingAndGlyphs" stroke="#000" stroke-width="0.15" x="614.5" y="42.4">HN</text>
<text font-size="15.7" stroke="#000" stroke-width="0.15" x="646.95" y="30.4">Et</text>
<text font-size="18.6" textLength="37.6" lengthAdjust="spacingAndGlyphs" stroke="#000" stroke-width="0.25" x="519.35" y="163.4">Py-2</text>
<path d="M294 108.2H383" stroke="#000" stroke-width="1.1" fill="none"/>
<path d="M398.2 108.2L377.6 104.3L382.6 108.2L377.6 112.1Z" fill="#000"/>
<text font-size="18.6" textLength="60.31" lengthAdjust="spacingAndGlyphs" stroke="#000" stroke-width="0.25" x="308.25" y="101">Stimuli</text>
<!-- bullets -->
<text y="218.8" font-size="18.1" stroke="#000" stroke-width="0.25"><tspan x="393.55" textLength="64.05" lengthAdjust="spacingAndGlyphs">General</tspan> <tspan x="463.6" textLength="80.52" lengthAdjust="spacingAndGlyphs">molecular</tspan> <tspan x="551.95" textLength="72.08" lengthAdjust="spacingAndGlyphs">platform</tspan></text>
<text y="240.8" font-size="18.1" stroke="#000" stroke-width="0.25"><tspan x="441.55" textLength="55.82" lengthAdjust="spacingAndGlyphs">Stimuli</tspan> <tspan x="501.55" textLength="6.11" lengthAdjust="spacingAndGlyphs">:</tspan> <tspan x="510.95" textLength="72.08" lengthAdjust="spacingAndGlyphs">enzyme,</tspan> <tspan x="587.35" textLength="38.67" lengthAdjust="spacingAndGlyphs">ROS,</tspan> <tspan x="629.45" textLength="30.67" lengthAdjust="spacingAndGlyphs">etc.</tspan></text>
<text y="271.6" font-size="18.1" stroke="#000" stroke-width="0.25"><tspan x="393.65" textLength="46.07" lengthAdjust="spacingAndGlyphs">Good</tspan> <tspan x="449.1" textLength="62.5" lengthAdjust="spacingAndGlyphs">stability</tspan> <tspan x="519.35" textLength="31.86" lengthAdjust="spacingAndGlyphs">and</tspan> <tspan x="556.65" textLength="107.51" lengthAdjust="spacingAndGlyphs">compatibility</tspan></text>
<text y="310.6" font-size="18.1" stroke="#000" stroke-width="0.25"><tspan x="393.75" textLength="92.53" lengthAdjust="spacingAndGlyphs">Ratiometric</tspan> <tspan x="492.35" textLength="44.92" lengthAdjust="spacingAndGlyphs">NIR-II</tspan> <tspan x="541.55" textLength="74.3" lengthAdjust="spacingAndGlyphs">emission</tspan></text>
<text y="345.8" font-size="18.1" stroke="#000" stroke-width="0.25"><tspan x="394.4" textLength="92.76" lengthAdjust="spacingAndGlyphs">Application</tspan> <tspan x="496" textLength="13.03" lengthAdjust="spacingAndGlyphs">in</tspan> <tspan x="514.85" textLength="71.26" lengthAdjust="spacingAndGlyphs">complex</tspan> <tspan x="593" textLength="83.05" lengthAdjust="spacingAndGlyphs">biosystem</tspan></text>
<path d="M367.27 216.29Q367.57 215.09 368.7 214.97Q369.73 214.94 370.13 215.54Q371.24 216.51 371.84 218.11Q374.5 214.51 376.7 212.11Q378.96 209.51 381.56 207.71Q382.6 207.6 382.3 208.4Q380.7 210.2 378.7 212.4Q376.5 214.8 374.7 217.2Q373.04 219.26 371.84 221.26Q371.2 222.1 370.7 222Q370.14 221.67 369.84 220.97Q369.4 219.71 368.7 218.11Q367.77 217.19 367.27 216.29Z" fill="#1a14f6"/>
<path d="M367.27 266.79Q367.57 265.59 368.7 265.47Q369.73 265.44 370.13 266.04Q371.24 267.01 371.84 268.61Q374.5 265.01 376.7 262.61Q378.96 260.01 381.56 258.21Q382.6 258.1 382.3 258.9Q380.7 260.7 378.7 262.9Q376.5 265.3 374.7 267.7Q373.04 269.76 371.84 271.76Q371.2 272.6 370.7 272.5Q370.14 272.17 369.84 271.47Q369.4 270.21 368.7 268.61Q367.77 267.69 367.27 266.79Z" fill="#1a14f6"/>
<path d="M367.27 305.19Q367.57 303.99 368.7 303.87Q369.73 303.84 370.13 304.44Q371.24 305.41 371.84 307.01Q374.5 303.41 376.7 301.01Q378.96 298.41 381.56 296.61Q382.6 296.5 382.3 297.3Q380.7 299.1 378.7 301.3Q376.5 303.7 374.7 306.1Q373.04 308.16 371.84 310.16Q371.2 311 370.7 310.9Q370.14 310.57 369.84 309.87Q369.4 308.61 368.7 307.01Q367.77 306.09 367.27 305.19Z" fill="#1a14f6"/>
<path d="M367.27 340.49Q367.57 339.29 368.7 339.17Q369.73 339.14 370.13 339.74Q371.24 340.71 371.84 342.31Q374.5 338.71 376.7 336.31Q378.96 333.71 381.56 331.91Q382.6 331.8 382.3 332.6Q380.7 334.4 378.7 336.6Q376.5 339 374.7 341.4Q373.04 343.46 371.84 345.46Q371.2 346.3 370.7 346.2Q370.14 345.87 369.84 345.17Q369.4 343.91 368.7 342.31Q367.77 341.39 367.27 340.49Z" fill="#1a14f6"/>
<!-- mice -->
<defs>
<path id="mouse" d="M0 0C1.15 0.04 2.6 2.82 3.6 4.26C4.6 5.71 5.37 7.37 5.99 8.66C6.62 9.94 6.55 11.25 7.33 11.99C8.1 12.72 9.43 12.61 10.66 13.05C11.88 13.5 13.61 13.83 14.65 14.65C15.69 15.47 16.4 16.76 16.92 17.98C17.43 19.2 17.43 20.64 17.71 21.98C18 23.31 18.78 24.75 18.65 25.97C18.51 27.19 17.69 28.26 16.92 29.3C16.14 30.35 14.96 31.12 13.99 32.23C13.01 33.34 11.68 34.56 11.05 35.96C10.43 37.36 10.26 38.96 10.26 40.62C10.26 42.29 10.54 44.18 11.05 45.95C11.57 47.73 12.5 49.5 13.32 51.28C14.14 53.05 15.25 54.72 15.98 56.61C16.72 58.49 17.2 60.94 17.71 62.6C18.23 64.26 18.23 66.26 19.05 66.6C19.87 66.93 21.27 65.37 22.64 64.6C24.02 63.82 26.42 61.93 27.3 61.93C28.19 61.93 28.41 63.6 27.97 64.6C27.53 65.6 25.97 67.04 24.64 67.93C23.31 68.82 21.42 69.7 19.98 69.93C18.54 70.15 17.09 69.93 15.98 69.26C14.87 68.59 14.43 66.04 13.32 65.93C12.21 65.82 10.77 67.37 9.32 68.59C7.88 69.81 5.88 71.92 4.66 73.26C3.44 74.59 3 76.58 2 76.58C1 76.58 -0 74.48 -1.33 73.26C-2.66 72.03 -4.55 70.48 -5.99 69.26C-7.44 68.04 -8.88 66.42 -9.99 65.93C-11.1 65.44 -11.88 65.66 -12.65 66.33C-13.43 67 -13.54 69.17 -14.65 69.93C-15.76 70.68 -17.54 70.75 -19.31 70.86C-21.09 70.97 -23.75 70.97 -25.31 70.59C-26.86 70.21 -28.53 69.3 -28.64 68.59C-28.75 67.88 -27.42 66.71 -25.97 66.33C-24.53 65.95 -21.42 66.73 -19.98 66.33C-18.54 65.93 -17.76 65.22 -17.31 63.93C-16.87 62.64 -17.76 60.38 -17.31 58.6C-16.87 56.83 -15.65 55.05 -14.65 53.28C-13.65 51.5 -12.21 49.72 -11.32 47.95C-10.43 46.17 -9.55 44.29 -9.32 42.62C-9.1 40.96 -9.55 39.4 -9.99 37.96C-10.43 36.52 -11.1 35.14 -11.99 33.96C-12.88 32.79 -14.21 31.9 -15.32 30.9C-16.43 29.9 -18.2 29.12 -18.65 27.97C-19.09 26.82 -18.27 25.42 -17.98 23.97C-17.69 22.53 -17.47 20.76 -16.92 19.31C-16.36 17.87 -15.69 16.32 -14.65 15.32C-13.61 14.32 -11.99 13.83 -10.66 13.32C-9.32 12.81 -7.48 13.03 -6.66 12.25C-5.84 11.48 -6.28 10.03 -5.73 8.66C-5.17 7.28 -4.28 5.44 -3.33 4C-2.38 2.55 -1.15 -0.04 0 0ZM-15.98 22.64C-15.65 21.38 -12.72 21.27 -11.32 21.04C-9.92 20.82 -8.26 20.49 -7.59 21.31C-6.93 22.13 -6.93 24.24 -7.33 25.97C-7.73 27.7 -8.99 31.26 -9.99 31.7C-10.99 32.14 -12.32 30.15 -13.32 28.64C-14.32 27.13 -16.32 23.91 -15.98 22.64ZM8.39 21.98C9.28 20.98 12.56 20.98 13.99 21.31C15.41 21.64 16.8 22.64 16.92 23.97C17.03 25.31 15.54 28.01 14.65 29.3C13.76 30.59 12.59 32.03 11.59 31.7C10.59 31.37 9.19 28.92 8.66 27.3C8.12 25.68 7.5 22.98 8.39 21.98Z" fill="none" stroke="#fafafa" stroke-width="1.05" stroke-dasharray="1.45 1.25"/>
<linearGradient id="cb1"><stop offset="0" stop-color="#050005"/><stop offset="0.3" stop-color="#3a0a3c"/><stop offset="0.58" stop-color="#a11aa0"/><stop offset="0.8" stop-color="#bb4ab6"/><stop offset="1" stop-color="#c76ec2"/></linearGradient>
<linearGradient id="cb2"><stop offset="0" stop-color="#000303"/><stop offset="0.3" stop-color="#004444"/><stop offset="0.58" stop-color="#0aa6a4"/><stop offset="0.8" stop-color="#3ecbc8"/><stop offset="1" stop-color="#7fe4e2"/></linearGradient>
<linearGradient id="cb3"><stop offset="0" stop-color="#0b1256"/><stop offset="0.1" stop-color="#0f30a8"/><stop offset="0.24" stop-color="#2278e2"/><stop offset="0.38" stop-color="#4cd8e8"/><stop offset="0.5" stop-color="#9ee8a0"/><stop offset="0.62" stop-color="#f0e636"/><stop offset="0.75" stop-color="#f59a1c"/><stop offset="0.88" stop-color="#e6261c"/><stop offset="1" stop-color="#a01418"/></linearGradient>
<radialGradient id="s1"><stop offset="0" stop-color="#d868d4"/><stop offset="0.5" stop-color="#b23cae"/><stop offset="0.78" stop-color="#5a1458" stop-opacity="0.75"/><stop offset="1" stop-color="#5a1458" stop-opacity="0"/></radialGradient>
<radialGradient id="s2"><stop offset="0" stop-color="#58e6e2"/><stop offset="0.5" stop-color="#1cb6b4"/><stop offset="0.78" stop-color="#085a5a" stop-opacity="0.75"/><stop offset="1" stop-color="#085a5a" stop-opacity="0"/></radialGradient>
<radialGradient id="s3"><stop offset="0" stop-color="#3c80f4"/><stop offset="0.5" stop-color="#1c50d8"/><stop offset="0.78" stop-color="#0a1c70" stop-opacity="0.75"/><stop offset="1" stop-color="#0a1c70" stop-opacity="0"/></radialGradient>
<radialGradient id="s3d"><stop offset="0" stop-color="#1a3cb0"/><stop offset="0.5" stop-color="#122c94"/><stop offset="0.78" stop-color="#081048" stop-opacity="0.75"/><stop offset="1" stop-color="#081048" stop-opacity="0"/></radialGradient>
<radialGradient id="h1"><stop offset="0" stop-color="#5a1a58" stop-opacity="0.55"/><stop offset="1" stop-color="#5a1a58" stop-opacity="0"/></radialGradient><radialGradient id="h3"><stop offset="0" stop-color="#0c2a8a" stop-opacity="0.55"/><stop offset="1" stop-color="#0c2a8a" stop-opacity="0"/></radialGradient><radialGradient id="h2"><stop offset="0" stop-color="#0c6a6a" stop-opacity="0.4"/><stop offset="1" stop-color="#0c6a6a" stop-opacity="0"/></radialGradient>
</defs>
<rect x="21" y="406.9" width="102.0" height="80.7" fill="#040303"/>
<rect x="21" y="494.1" width="102.0" height="80.3" fill="#040303"/>
<rect x="130.2" y="406.9" width="102.8" height="80.7" fill="#040303"/>
<rect x="130.2" y="494.1" width="102.8" height="80.3" fill="#040303"/>
<rect x="239.8" y="406.9" width="102.6" height="80.7" fill="#040303"/>
<rect x="239.8" y="494.1" width="102.6" height="80.3" fill="#040303"/>
<use href="#mouse" x="73.5" y="409.2"/>
<use href="#mouse" x="182.2" y="409"/>
<use href="#mouse" x="291" y="409"/>
<use href="#mouse" x="72.4" y="498.1"/>
<use href="#mouse" x="181.1" y="497.9"/>
<use href="#mouse" x="290.3" y="497.9"/>
<ellipse cx="65" cy="467.6" rx="4.67" ry="5.5" fill="url(#s1)" transform="rotate(-20 65 467.6)"/>
<ellipse cx="81.7" cy="464.3" rx="4.42" ry="5.2" fill="url(#s1)" transform="rotate(-10 81.7 464.3)"/>
<ellipse cx="64.7" cy="556" rx="4.76" ry="5.6" fill="url(#s1)" transform="rotate(-20 64.7 556)"/>
<ellipse cx="81" cy="552.6" rx="4.59" ry="5.4" fill="url(#s1)" transform="rotate(-10 81 552.6)"/>
<ellipse cx="73" cy="553.6" rx="9" ry="4.6" fill="url(#h1)"/>
<ellipse cx="174.4" cy="467.1" rx="4.59" ry="5.1" fill="url(#s2)" transform="rotate(-20 174.4 467.1)"/>
<ellipse cx="190.4" cy="464.4" rx="4.32" ry="4.8" fill="url(#s2)" transform="rotate(-10 190.4 464.4)"/>
<ellipse cx="174" cy="555.6" rx="4.77" ry="5.3" fill="url(#s2)" transform="rotate(-20 174 555.6)"/>
<ellipse cx="189.8" cy="552.9" rx="4.5" ry="5" fill="url(#s2)" transform="rotate(-10 189.8 552.9)"/>
<ellipse cx="182" cy="554" rx="8" ry="4.4" fill="url(#h2)"/>
<ellipse cx="284.4" cy="466.5" rx="4.68" ry="5.2" fill="url(#s3)" transform="rotate(-20 284.4 466.5)"/>
<ellipse cx="299.4" cy="464" rx="4.68" ry="5.2" fill="url(#s3)" transform="rotate(-10 299.4 464)"/>
<ellipse cx="282.9" cy="555.6" rx="4.5" ry="5" fill="url(#s3d)" transform="rotate(-20 282.9 555.6)"/>
<ellipse cx="299.8" cy="552.5" rx="4.32" ry="4.8" fill="url(#s3)" transform="rotate(-10 299.8 552.5)"/>
<ellipse cx="291" cy="554" rx="8" ry="4" fill="url(#h3)"/>
<circle cx="301.6" cy="552.8" r="1.5" fill="#3cc8dc" opacity="0.8"/>
<circle cx="77.9" cy="484" r="0.8" fill="#a030a0"/><circle cx="187.8" cy="483.6" r="0.8" fill="#20a0a0"/><circle cx="296" cy="484" r="0.6" fill="#803030"/>
<rect x="21" y="574.3" width="102.0" height="2.1" fill="#cdcdcd"/>
<rect x="21.3" y="576.8" width="101.4" height="9.5" fill="url(#cb1)" stroke="#9c9c9c" stroke-width="0.6"/>
<rect x="130.2" y="574.3" width="102.8" height="2.1" fill="#cdcdcd"/>
<rect x="130.5" y="576.8" width="102.2" height="9.5" fill="url(#cb2)" stroke="#9c9c9c" stroke-width="0.6"/>
<rect x="239.8" y="574.3" width="102.6" height="2.1" fill="#cdcdcd"/>
<rect x="240.1" y="576.8" width="102" height="9.5" fill="url(#cb3)" stroke="#9c9c9c" stroke-width="0.6"/>
<text font-size="17.5" textLength="8.29" lengthAdjust="spacingAndGlyphs" fill="#231815" stroke="#231815" stroke-width="0.25" x="22" y="605">L</text>
<text font-size="17.5" textLength="8.29" lengthAdjust="spacingAndGlyphs" fill="#231815" stroke="#231815" stroke-width="0.25" x="131" y="605">L</text>
<text font-size="17.5" textLength="8.29" lengthAdjust="spacingAndGlyphs" fill="#231815" stroke="#231815" stroke-width="0.25" x="239.7" y="605">L</text>
<text font-size="17.5" textLength="12.97" lengthAdjust="spacingAndGlyphs" fill="#231815" stroke="#231815" stroke-width="0.25" x="109.5" y="605">H</text>
<text font-size="17.5" textLength="12.97" lengthAdjust="spacingAndGlyphs" fill="#231815" stroke="#231815" stroke-width="0.25" x="219.05" y="605">H</text>
<text font-size="17.5" textLength="12.97" lengthAdjust="spacingAndGlyphs" fill="#231815" stroke="#231815" stroke-width="0.25" x="327.75" y="605">H</text>
<text font-size="16.7" textLength="61.05" lengthAdjust="spacingAndGlyphs" stroke="#000" stroke-width="0.25" x="42.7" y="401.5">1000 LP</text>
<text font-size="16.7" textLength="53.05" lengthAdjust="spacingAndGlyphs" stroke="#000" stroke-width="0.25" x="154.75" y="401.5">900 LP</text>
<text font-size="16.7" textLength="40.33" lengthAdjust="spacingAndGlyphs" stroke="#000" stroke-width="0.25" x="270.05" y="401.5">Ratio</text>
<text font-size="16.9" textLength="41.8" lengthAdjust="spacingAndGlyphs" stroke="#000" stroke-width="0.25" x="-0.5" y="0" transform="translate(15.6 465.4) rotate(-90)">0 min</text>
<text font-size="17.2" textLength="51.54" lengthAdjust="spacingAndGlyphs" stroke="#000" stroke-width="0.25" x="-0.5" y="0" transform="translate(16 559.6) rotate(-90)">30 min</text>
<text font-size="14.8" textLength="67.05" lengthAdjust="spacingAndGlyphs" fill="#fff" stroke="#fff" stroke-width="0.15" x="-1" y="0" transform="translate(29.1 415.3) rotate(90)">Dicoumarol</text>
<text font-size="14.8" textLength="42.29" lengthAdjust="spacingAndGlyphs" fill="#fff" stroke="#fff" stroke-width="0.15" x="-0.5" y="0" transform="translate(107.7 421.8) rotate(90)">Control</text>
<path d="M40.3 453.8L50.62 459.48" stroke="#fff" stroke-width="1.4"/>
<path d="M59.9 464.6L48.98 462.46L52.26 456.51Z" fill="#fff"/>
<path d="M106 450.8L96.55 456.34" stroke="#fff" stroke-width="1.4"/>
<path d="M87.4 461.7L94.83 453.41L98.26 459.27Z" fill="#fff"/>
<!-- bars -->
<rect x="435.6" y="533.02" width="34.6" height="52.18" fill="#ec7a7c"/>
<rect x="488.7" y="533.24" width="34.4" height="51.96" fill="#f29a45"/>
<rect x="576.5" y="542.31" width="34.7" height="42.89" fill="#ec7a7c"/>
<rect x="629.4" y="484.38" width="34.3" height="100.82" fill="#f29a45"/>
<path d="M453.2 533.02V523.2M444.6 523.2H461.8" stroke="#ec7a7c" stroke-width="1.3" fill="none"/>
<path d="M506 533.24V522.2M497.4 522.2H514.6" stroke="#f29a45" stroke-width="1.3" fill="none"/>
<path d="M593.4 542.31V535.6M584.8 535.6H602" stroke="#ec7a7c" stroke-width="1.3" fill="none"/>
<path d="M646.4 484.38V460.4M637.8 460.4H655" stroke="#f29a45" stroke-width="1.3" fill="none"/>
<path d="M418 408.4H682.6V585.2H418Z" stroke="#000" stroke-width="1.5" fill="none"/>
<path d="M409.6 585.2H418M409.6 540.98H418M409.6 496.76H418M409.6 452.54H418M409.6 408.32H418M479.8 585.2V592.8M620.2 585.2V592.8" stroke="#000" stroke-width="1.5" fill="none"/>
<text font-size="18.7" textLength="25.28" lengthAdjust="spacingAndGlyphs" stroke="#000" stroke-width="0.25" x="380.3" y="591.5">0.4</text>
<text font-size="18.7" textLength="25.56" lengthAdjust="spacingAndGlyphs" stroke="#000" stroke-width="0.25" x="380.3" y="547.28">0.5</text>
<text font-size="18.7" textLength="25.56" lengthAdjust="spacingAndGlyphs" stroke="#000" stroke-width="0.25" x="380.3" y="503.06">0.6</text>
<text font-size="18.7" textLength="25.82" lengthAdjust="spacingAndGlyphs" stroke="#000" stroke-width="0.25" x="380.3" y="458.84">0.7</text>
<text font-size="18.7" textLength="25.56" lengthAdjust="spacingAndGlyphs" stroke="#000" stroke-width="0.25" x="380.3" y="414.62">0.8</text>
<text font-size="19" textLength="51.57" lengthAdjust="spacingAndGlyphs" stroke="#000" stroke-width="0.25" x="458.45" y="609">0 min</text>
<text font-size="19" textLength="61.8" lengthAdjust="spacingAndGlyphs" stroke="#000" stroke-width="0.25" x="589.25" y="609">30 min</text>
<text font-size="18.9" textLength="45.86" lengthAdjust="spacingAndGlyphs" stroke="#000" stroke-width="0.25" x="-1.5" y="0" transform="translate(371.9 521.2) rotate(-90)">Ratio</text>
<rect x="435.2" y="418.2" width="15.6" height="4.8" fill="#ec7a7c"/><rect x="435.2" y="441.9" width="15.6" height="4.8" fill="#f29a45"/>
<text font-size="19" textLength="168" lengthAdjust="spacingAndGlyphs" stroke="#000" stroke-width="0.25" x="463.05" y="428.4">4T1+NOX inhibitor</text>
<text font-size="19" textLength="30.29" lengthAdjust="spacingAndGlyphs" stroke="#000" stroke-width="0.25" x="463.05" y="452">4T1</text>
<path d="M594.2 534.2V447.3H647.2V456" stroke="#000" stroke-width="1.3" fill="none"/>
<text font-size="19" textLength="13.77" lengthAdjust="spacingAndGlyphs" stroke="#000" stroke-width="0.25" x="612.65" y="448.6">**</text>
</svg></body></html>
